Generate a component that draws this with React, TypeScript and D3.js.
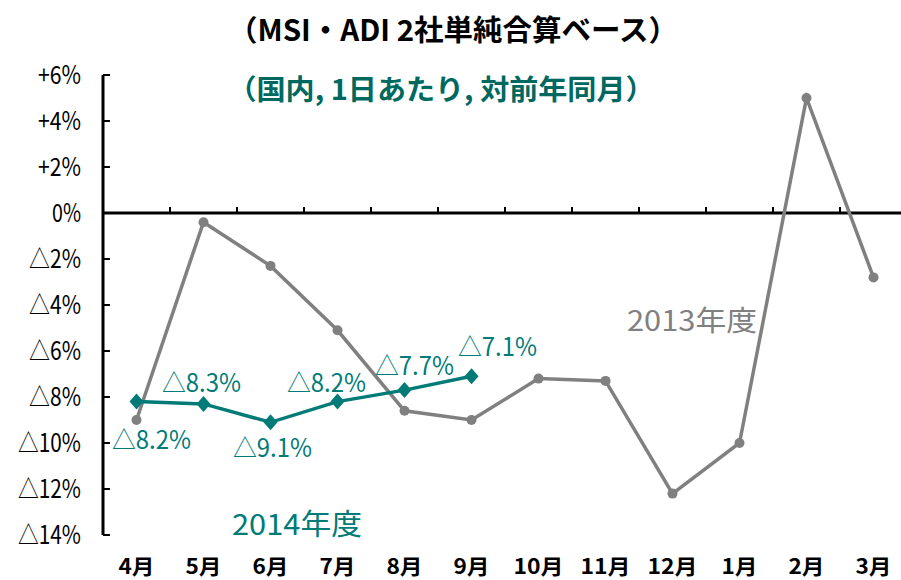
import React from 'react';
import * as d3 from 'd3';

// months of the fiscal year (Apr - Mar)
const months = ['4月', '5月', '6月', '7月', '8月', '9月', '10月', '11月', '12月', '1月', '2月', '3月'];
// 2013年度, % vs same month previous year
const fy2013 = [-9.0, -0.4, -2.3, -5.1, -8.6, -9.0, -7.2, -7.3, -12.2, -10.0, 5.0, -2.8];
// 2014年度 (Apr - Sep)
const fy2014 = [-8.2, -8.3, -9.1, -8.2, -7.7, -7.1];
const yTicks = [6, 4, 2, 0, -2, -4, -6, -8, -10, -12, -14];

// label placement around each 2014 point (dx, dy from point)
const labelOffsets: [number, number][] = [[15, 47], [-2, -12], [2, 35], [-11, -10], [10, -15], [26, -20]];

const W = 901;
const H = 580;
const TEAL = '#007b77';
const GRAY = '#808080';
const CJK = '"Noto Sans CJK JP", sans-serif';

const fmt = (v: number) => (v > 0 ? `+${v}%` : v === 0 ? '0%' : `△${Math.abs(v)}%`);

// rough width of a condensed tick label
const tickWidth = (s: string) =>
  s.split('').reduce((w, c) => w + (c === '△' ? 23 : c === '%' ? 18 : c === '+' ? 14 : 11), 0);

export default function App() {
  const x = d3.scaleBand<string>().domain(months).range([103, 907]);
  const y = d3.scaleLinear().domain([-14, 6]).range([535, 75]);
  const cx = (m: string) => (x(m) as number) + x.bandwidth() / 2;

  const line13 = d3.line<number>().x((_, i) => cx(months[i])).y(d => y(d));
  const line14 = d3.line<number>().x((_, i) => cx(months[i])).y(d => y(d));

  return (
    <svg width={W} height={H} style={{ position: 'absolute', left: 0, top: 0, background: '#fff' }}>
      <text x={453} y={41} textAnchor="middle" fontFamily={CJK} fontWeight={700} fontSize={29}
        textLength={450} lengthAdjust="spacingAndGlyphs" fill="#000">
        （MSI・ADI 2社単純合算ベース）
      </text>
      <text x={441} y={100} textAnchor="middle" fontFamily={CJK} fontWeight={700} fontSize={28}
        textLength={427} lengthAdjust="spacingAndGlyphs" fill="#00695f">
        （国内, 1日あたり, 対前年同月）
      </text>

      {/* y axis */}
      <line x1={103} x2={103} y1={y(6)} y2={y(-14)} stroke="#000" strokeWidth={3} />
      {yTicks.map(t => (
        <g key={t}>
          <line x1={103} x2={110} y1={y(t)} y2={y(t)} stroke="#000" strokeWidth={2} />
          <text x={81} y={y(t) + 9} textAnchor="end" fontFamily={CJK} fontSize={25} fill="#000"
            textLength={tickWidth(fmt(t))} lengthAdjust="spacingAndGlyphs">
            {fmt(t)}
          </text>
        </g>
      ))}

      {/* zero line with category ticks */}
      <line x1={103} x2={W} y1={y(0)} y2={y(0)} stroke="#000" strokeWidth={3} />
      {months.slice(1).map(m => (
        <line key={m} x1={x(m)} x2={x(m)} y1={y(0)} y2={y(0) - 6} stroke="#000" strokeWidth={2} />
      ))}

      {months.map(m => (
        <text key={m} x={cx(m)} y={574} textAnchor="middle" fontFamily={CJK} fontWeight={700} fontSize={21}
          textLength={m.length > 2 ? 50 : 36} lengthAdjust="spacingAndGlyphs" fill="#000">
          {m}
        </text>
      ))}

      {/* 2013 */}
      <path d={line13(fy2013) || ''} fill="none" stroke={GRAY} strokeWidth={3.5} />
      {fy2013.map((v, i) => (
        <circle key={i} cx={cx(months[i])} cy={y(v)} r={5} fill={GRAY} />
      ))}

      {/* 2014 */}
      <path d={line14(fy2014) || ''} fill="none" stroke={TEAL} strokeWidth={3.5} />
      {fy2014.map((v, i) => {
        const px = cx(months[i]);
        const py = y(v);
        return (
          <path key={i} d={`M${px},${py - 8}L${px + 7},${py}L${px},${py + 8}L${px - 7},${py}Z`} fill={TEAL} />
        );
      })}
      {fy2014.map((v, i) => (
        <text key={i} x={cx(months[i]) + labelOffsets[i][0]} y={y(v) + labelOffsets[i][1]} textAnchor="middle"
          fontFamily={CJK} fontSize={25} textLength={79} lengthAdjust="spacingAndGlyphs" fill={TEAL}>
          {fmt(v)}
        </text>
      ))}

      <text x={297} y={535} textAnchor="middle" fontFamily={CJK} fontSize={29} textLength={130}
        lengthAdjust="spacingAndGlyphs" fill={TEAL}>
        2014年度
      </text>
      <text x={692} y={331} textAnchor="middle" fontFamily={CJK} fontSize={28} textLength={130}
        lengthAdjust="spacingAndGlyphs" fill={GRAY}>
        2013年度
      </text>
    </svg>
  );
}
